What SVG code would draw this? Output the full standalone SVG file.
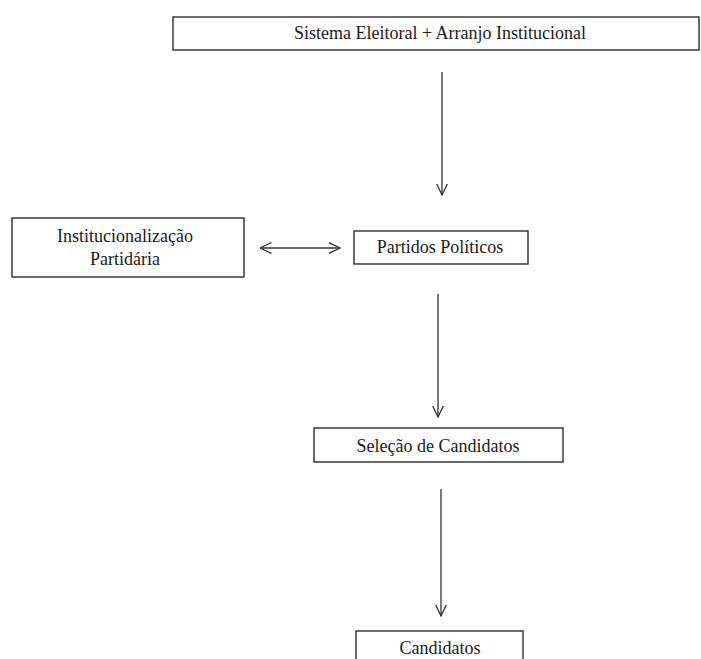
<svg xmlns="http://www.w3.org/2000/svg" width="701" height="659" viewBox="0 0 701 659">
  <style>
    .box { fill: #ffffff; stroke: #3a3a3a; stroke-width: 1.5; }
    .lbl { font-family: "Liberation Serif", "Times New Roman", serif; font-size: 18px; fill: #1a1a1a; text-anchor: middle; }
    .conn { stroke: #333333; stroke-width: 1.3; fill: none; }
  </style>
  <defs>
    <marker id="arr" viewBox="0 0 12 12" refX="11.5" refY="6" markerWidth="12" markerHeight="12" markerUnits="userSpaceOnUse" orient="auto-start-reverse">
      <path d="M0,0.5 L11.5,6 L0,11.5" fill="none" stroke="#333333" stroke-width="1.3"/>
    </marker>
  </defs>
  <rect width="701" height="659" fill="#ffffff"/>

  <g id="connectors">
    <line class="conn" x1="442" y1="72" x2="442" y2="195" marker-end="url(#arr)"/>
    <line class="conn" x1="260" y1="248" x2="340" y2="248" marker-start="url(#arr)" marker-end="url(#arr)"/>
    <line class="conn" x1="438" y1="294" x2="438" y2="417" marker-end="url(#arr)"/>
    <line class="conn" x1="441" y1="489" x2="441" y2="616" marker-end="url(#arr)"/>
  </g>

  <g id="sistema">
    <rect class="box" x="173" y="17" width="526" height="33"/>
    <text class="lbl" x="440" y="39">Sistema Eleitoral + Arranjo Institucional</text>
  </g>

  <g id="institucionalizacao">
    <rect class="box" x="12" y="218" width="232" height="59"/>
    <text class="lbl" x="125" y="242">Institucionalização</text>
    <text class="lbl" x="125" y="265">Partidária</text>
  </g>

  <g id="partidos">
    <rect class="box" x="354" y="231" width="174" height="33"/>
    <text class="lbl" x="440" y="253">Partidos Políticos</text>
  </g>

  <g id="selecao">
    <rect class="box" x="314" y="428" width="249" height="34"/>
    <text class="lbl" x="438" y="452">Seleção de Candidatos</text>
  </g>

  <g id="candidatos">
    <rect class="box" x="356" y="631" width="167" height="40"/>
    <text class="lbl" x="440" y="654">Candidatos</text>
  </g>
</svg>
